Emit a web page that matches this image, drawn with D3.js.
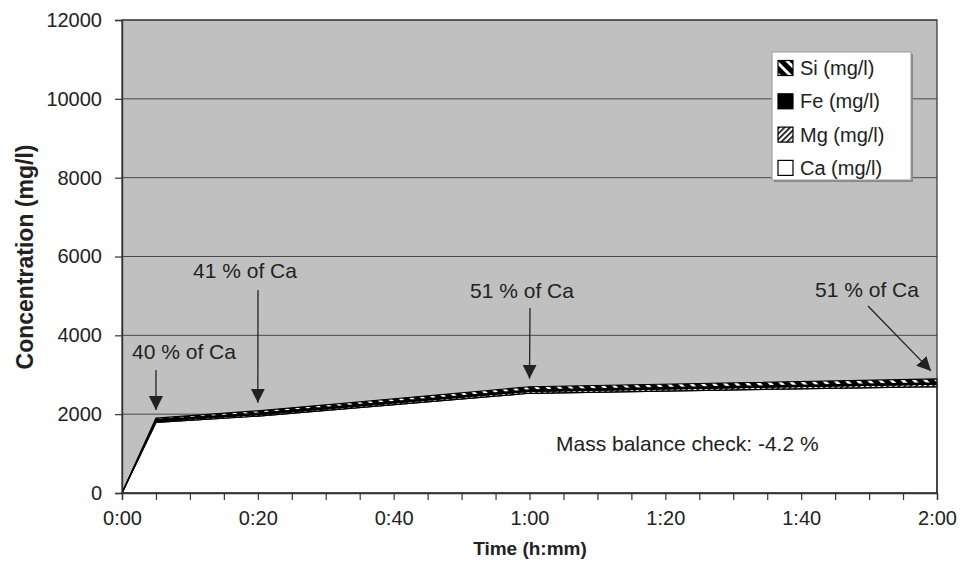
<!DOCTYPE html>
<html><head><meta charset="utf-8">
<script src="https://cdn.jsdelivr.net/npm/d3@7"></script>
<style>body{margin:0;background:#fff}svg{font-family:"Liberation Sans",Arial,sans-serif}</style>
</head><body><svg id="c" width="960" height="562"></svg>
<script>
const minutes = [0, 5, 20, 60, 120];
const ca = [0, 1790, 1950, 2530, 2700];
const mg = [0, 35, 40, 50, 60];
const fe = [0, 35, 35, 35, 35];
const si = [0, 40, 60, 80, 100];
const seriesNames = ["Ca (mg/l)", "Mg (mg/l)", "Fe (mg/l)", "Si (mg/l)"];
const yTicks = [0, 2000, 4000, 6000, 8000, 10000, 12000];
const xTickLabels = ["0:00", "0:20", "0:40", "1:00", "1:20", "1:40", "2:00"];
const notes = [
  {t: 5, text: "40 % of Ca"},
  {t: 20, text: "41 % of Ca"},
  {t: 60, text: "51 % of Ca"},
  {t: 120, text: "51 % of Ca"}
];
const massBalance = "Mass balance check: -4.2 %";

const svg = d3.select("#c");
const L = 122, R = 937, T = 20, B = 493;
const x = d3.scaleLinear().domain([0, 120]).range([L, R]);
const y = d3.scaleLinear().domain([0, 12000]).range([B, T]);
const TXT = "#222";

const defs = svg.append("defs");
const pMg = defs.append("pattern").attr("id", "pMg").attr("patternUnits", "userSpaceOnUse")
  .attr("width", 4).attr("height", 4).attr("patternTransform", "rotate(45)");
pMg.append("rect").attr("width", 4).attr("height", 4).attr("fill", "#fff");
pMg.append("rect").attr("width", 1.6).attr("height", 4).attr("fill", "#000");
const pSi = defs.append("pattern").attr("id", "pSi").attr("patternUnits", "userSpaceOnUse")
  .attr("width", 8).attr("height", 8).attr("patternTransform", "rotate(-45)");
pSi.append("rect").attr("width", 8).attr("height", 8).attr("fill", "#000");
pSi.append("rect").attr("width", 3).attr("height", 8).attr("fill", "#fff");
const fills = ["#fff", "url(#pMg)", "#000", "url(#pSi)"];

svg.append("rect").attr("x", L).attr("y", T).attr("width", R - L).attr("height", B - T).attr("fill", "#c0c0c0");
svg.append("g").selectAll("line").data(yTicks.slice(1)).join("line")
  .attr("x1", L).attr("x2", R).attr("y1", d => y(d)).attr("y2", d => y(d))
  .attr("stroke", "#4a4a4a").attr("stroke-width", 1);

const data = minutes.map((m, i) => ({m, ca: ca[i], mg: mg[i], fe: fe[i], si: si[i]}));
const stack = d3.stack().keys(["ca", "mg", "fe", "si"])(data);
const area = d3.area().x(d => x(d.data.m)).y0(d => y(d[0])).y1(d => y(d[1]));
svg.append("g").selectAll("path").data(stack).join("path")
  .attr("d", area).attr("fill", (d, i) => fills[i])
  .attr("stroke", "#000").attr("stroke-width", 1.2).attr("stroke-linejoin", "round");

svg.append("rect").attr("x", L).attr("y", T).attr("width", R - L).attr("height", B - T)
  .attr("fill", "none").attr("stroke", "#333").attr("stroke-width", 1.2);

const yAxis = d3.axisLeft(y).tickValues(yTicks).tickSize(7).tickPadding(13).tickFormat(d3.format("d"));
const gy = svg.append("g").attr("transform", `translate(${L},0)`).call(yAxis);
const xAxis = d3.axisBottom(x).tickValues(d3.range(0, 121, 5)).tickSize(7).tickPadding(11)
  .tickFormat(d => d % 20 === 0 ? xTickLabels[d / 20] : "");
const gx = svg.append("g").attr("transform", `translate(0,${B})`).call(xAxis);
[gx, gy].forEach(g => {
  g.select(".domain").attr("stroke", "#333").attr("stroke-width", 1.4);
  g.selectAll(".tick line").attr("stroke", "#333").attr("stroke-width", 1.2);
  g.selectAll("text").attr("font-size", 20).attr("fill", TXT).attr("font-family", "Liberation Sans, Arial, sans-serif");
});

svg.append("text").attr("x", 530).attr("y", 555).attr("text-anchor", "middle")
  .attr("font-weight", "bold").attr("font-size", 19).attr("fill", TXT).text("Time (h:mm)");
svg.append("text").attr("transform", "translate(33,257) rotate(-90)").attr("text-anchor", "middle")
  .attr("font-weight", "bold").attr("font-size", 23).attr("fill", TXT).text("Concentration (mg/l)");

const total = i => ca[i] + mg[i] + fe[i] + si[i];
defs.append("marker").attr("id", "ah").attr("viewBox", "0 0 10 10").attr("refX", 10).attr("refY", 5)
  .attr("markerWidth", 14).attr("markerHeight", 14).attr("markerUnits", "userSpaceOnUse").attr("orient", "auto")
  .append("path").attr("d", "M0,0 L10,5 L0,10 z").attr("fill", TXT);
const noteCfg = [
  {lx: 132, ly: 359, x1: 156, y1: 370},
  {lx: 193, ly: 278, x1: 258, y1: 290},
  {lx: 470, ly: 298, x1: 530, y1: 308},
  {lx: 815, ly: 297, x1: 868, y1: 306}
];
notes.forEach((n, i) => {
  const c = noteCfg[i];
  const idx = minutes.indexOf(n.t);
  const tx = x(n.t) - (i === 3 ? 6 : 0), ty = y(total(idx)) - 8;
  svg.append("text").attr("x", c.lx).attr("y", c.ly)
    .attr("font-size", 21).attr("fill", TXT).text(n.text);
  svg.append("line").attr("x1", c.x1).attr("y1", c.y1).attr("x2", tx).attr("y2", ty)
    .attr("stroke", TXT).attr("stroke-width", 1.3).attr("marker-end", "url(#ah)");
});
svg.append("text").attr("x", 556).attr("y", 451).attr("font-size", 21).attr("fill", TXT).text(massBalance);

const lg = svg.append("g");
lg.append("rect").attr("x", 774).attr("y", 54).attr("width", 139).attr("height", 128).attr("fill", "#888");
lg.append("rect").attr("x", 772).attr("y", 52).attr("width", 139).attr("height", 128)
  .attr("fill", "#fff").attr("stroke", "#999").attr("stroke-width", 1);
const legOrder = [3, 2, 1, 0];
legOrder.forEach((s, k) => {
  const cy = 68 + k * 33.3;
  lg.append("rect").attr("x", 778).attr("y", cy - 7.5).attr("width", 15).attr("height", 15)
    .attr("fill", fills[s]).attr("stroke", "#000").attr("stroke-width", 1.2);
  lg.append("text").attr("x", 800).attr("y", cy + 7).attr("font-size", 20).attr("fill", TXT).text(seriesNames[s]);
});
</script></body></html>
